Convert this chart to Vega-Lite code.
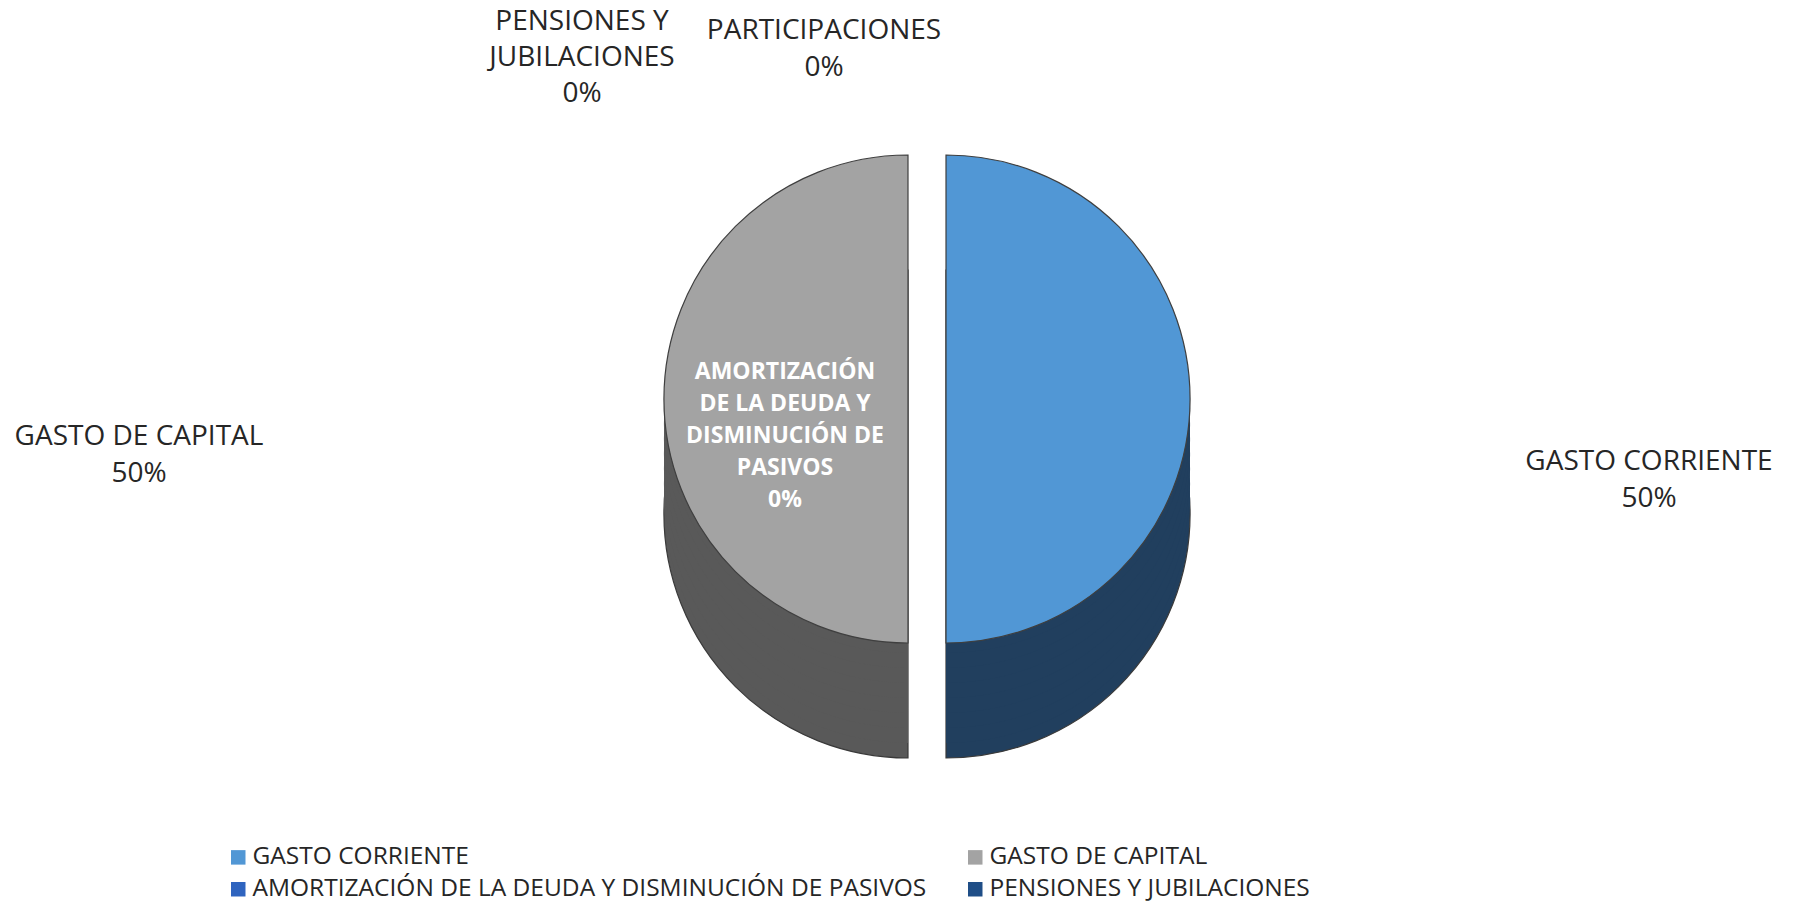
{
  "$schema": "https://vega.github.io/schema/vega-lite/v6.json",
  "width": 1795,
  "height": 904,
  "padding": 0,
  "autosize": {"type": "none"},
  "background": "white",
  "config": {"view": {"stroke": null}, "font": "Open Sans"},
  "data": {
    "values": [
      {"categoria": "GASTO CORRIENTE", "valor": 50, "orden": 1, "etiqueta": ["GASTO CORRIENTE", "50%"]},
      {"categoria": "GASTO DE CAPITAL", "valor": 50, "orden": 2, "etiqueta": ["GASTO DE CAPITAL", "50%"]},
      {"categoria": "AMORTIZACIÓN DE LA DEUDA Y DISMINUCIÓN DE PASIVOS", "valor": 0, "orden": 3, "etiqueta": ["AMORTIZACIÓN", "DE LA DEUDA Y", "DISMINUCIÓN DE", "PASIVOS", "0%"]},
      {"categoria": "PENSIONES Y JUBILACIONES", "valor": 0, "orden": 4, "etiqueta": ["PENSIONES Y", "JUBILACIONES", "0%"]},
      {"categoria": "PARTICIPACIONES", "valor": 0, "orden": 5, "etiqueta": ["PARTICIPACIONES", "0%"]}
    ]
  },
  "encoding": {
    "theta": {"field": "valor", "type": "quantitative", "stack": true},
    "order": {"field": "orden", "type": "quantitative"}
  },
  "layer": [
    {
      "encoding": {"opacity": {"condition": {"test": "datum.categoria === 'GASTO DE CAPITAL'", "value": 1}, "value": 0}},
      "layer": [
        {"mark": {"type": "arc", "outerRadius": 244, "fill": "#595959", "stroke": "#3a3a3a", "strokeWidth": 1.2, "xOffset": 10.5, "yOffset": 62}},
        {"mark": {"type": "arc", "outerRadius": 244, "fill": "#595959", "xOffset": 10.5, "yOffset": 47}},
        {"mark": {"type": "arc", "outerRadius": 244, "fill": "#595959", "xOffset": 10.5, "yOffset": 32}},
        {"mark": {"type": "arc", "outerRadius": 244, "fill": "#595959", "xOffset": 10.5, "yOffset": 17}},
        {"mark": {"type": "arc", "outerRadius": 244, "fill": "#595959", "xOffset": 10.5, "yOffset": 2}},
        {"mark": {"type": "arc", "outerRadius": 244, "fill": "#595959", "xOffset": 10.5, "yOffset": -13}},
        {"mark": {"type": "arc", "outerRadius": 244, "fill": "#595959", "xOffset": 10.5, "yOffset": -28}},
        {"mark": {"type": "arc", "outerRadius": 244, "fill": "#595959", "xOffset": 10.5, "yOffset": -43}}
      ]
    },
    {
      "encoding": {"opacity": {"condition": {"test": "datum.categoria === 'GASTO CORRIENTE'", "value": 1}, "value": 0}},
      "layer": [
        {"mark": {"type": "arc", "outerRadius": 244, "fill": "#213F5E", "stroke": "#3a3a3a", "strokeWidth": 1.2, "xOffset": 48.5, "yOffset": 62}},
        {"mark": {"type": "arc", "outerRadius": 244, "fill": "#213F5E", "xOffset": 48.5, "yOffset": 47}},
        {"mark": {"type": "arc", "outerRadius": 244, "fill": "#213F5E", "xOffset": 48.5, "yOffset": 32}},
        {"mark": {"type": "arc", "outerRadius": 244, "fill": "#213F5E", "xOffset": 48.5, "yOffset": 17}},
        {"mark": {"type": "arc", "outerRadius": 244, "fill": "#213F5E", "xOffset": 48.5, "yOffset": 2}},
        {"mark": {"type": "arc", "outerRadius": 244, "fill": "#213F5E", "xOffset": 48.5, "yOffset": -13}},
        {"mark": {"type": "arc", "outerRadius": 244, "fill": "#213F5E", "xOffset": 48.5, "yOffset": -28}},
        {"mark": {"type": "arc", "outerRadius": 244, "fill": "#213F5E", "xOffset": 48.5, "yOffset": -43}}
      ]
    },
    {
      "mark": {"type": "arc", "outerRadius": 244, "stroke": "#3f3f3f", "strokeWidth": 1.2, "xOffset": 10.5, "yOffset": -53},
      "encoding": {
        "color": {
          "field": "categoria", "type": "nominal",
          "scale": {
            "domain": ["GASTO CORRIENTE", "GASTO DE CAPITAL", "AMORTIZACIÓN DE LA DEUDA Y DISMINUCIÓN DE PASIVOS", "PENSIONES Y JUBILACIONES", "PARTICIPACIONES"],
            "range": ["#5197D5", "#A3A3A3", "#2F64BF", "#1F4E87", "#7F7F7F"]
          },
          "legend": {
            "title": null,
            "orient": "none",
            "legendX": 226,
            "legendY": 845,
            "direction": "horizontal",
            "columns": 2,
            "values": ["GASTO CORRIENTE", "GASTO DE CAPITAL", "AMORTIZACIÓN DE LA DEUDA Y DISMINUCIÓN DE PASIVOS", "PENSIONES Y JUBILACIONES"],
            "symbolType": "square",
            "symbolSize": 210,
            "symbolStrokeWidth": 0,
            "symbolOpacity": 1,
            "labelFont": "Open Sans",
            "labelFontSize": 24.5,
            "labelColor": "#262626",
            "labelLimit": 0,
            "labelOffset": 2,
            "rowPadding": 7,
            "columnPadding": 36
          }
        },
        "opacity": {"condition": {"test": "datum.categoria === 'GASTO DE CAPITAL'", "value": 1}, "value": 0}
      }
    },
    {
      "mark": {"type": "arc", "outerRadius": 244, "stroke": "#3f3f3f", "strokeWidth": 1.2, "xOffset": 48.5, "yOffset": -53},
      "encoding": {
        "color": {"field": "categoria", "type": "nominal"},
        "opacity": {"condition": {"test": "datum.categoria === 'GASTO CORRIENTE'", "value": 1}, "value": 0}
      }
    },
    {
      "mark": {"type": "text", "radius": 751.5, "dy": 10, "font": "Open Sans", "fontSize": 28, "fill": "#262626", "lineHeight": 37, "align": "center", "baseline": "middle"},
      "encoding": {"text": {"condition": {"test": "datum.categoria === 'GASTO CORRIENTE'", "field": "etiqueta", "type": "nominal"}, "value": ""}}
    },
    {
      "mark": {"type": "text", "radius": 758.5, "dy": -15, "font": "Open Sans", "fontSize": 28, "fill": "#262626", "lineHeight": 37, "align": "center", "baseline": "middle"},
      "encoding": {"text": {"condition": {"test": "datum.categoria === 'GASTO DE CAPITAL'", "field": "etiqueta", "type": "nominal"}, "value": ""}}
    },
    {
      "mark": {"type": "text", "radius": 430, "dx": -315.5, "font": "Open Sans", "fontSize": 28, "fill": "#262626", "lineHeight": 36, "align": "center", "baseline": "middle"},
      "encoding": {"text": {"condition": {"test": "datum.categoria === 'PENSIONES Y JUBILACIONES'", "field": "etiqueta", "type": "nominal"}, "value": ""}}
    },
    {
      "mark": {"type": "text", "radius": 421, "dx": -73.5, "font": "Open Sans", "fontSize": 28, "fill": "#262626", "lineHeight": 37, "align": "center", "baseline": "middle"},
      "encoding": {"text": {"condition": {"test": "datum.categoria === 'PARTICIPACIONES'", "field": "etiqueta", "type": "nominal"}, "value": ""}}
    },
    {
      "mark": {"type": "text", "radius": 0, "dx": -112.5, "dy": -80, "font": "Open Sans", "fontSize": 23, "fontWeight": "bold", "fill": "white", "lineHeight": 32, "align": "center", "baseline": "middle"},
      "encoding": {"text": {"condition": {"test": "datum.categoria === 'AMORTIZACIÓN DE LA DEUDA Y DISMINUCIÓN DE PASIVOS'", "field": "etiqueta", "type": "nominal"}, "value": ""}}
    }
  ]
}
